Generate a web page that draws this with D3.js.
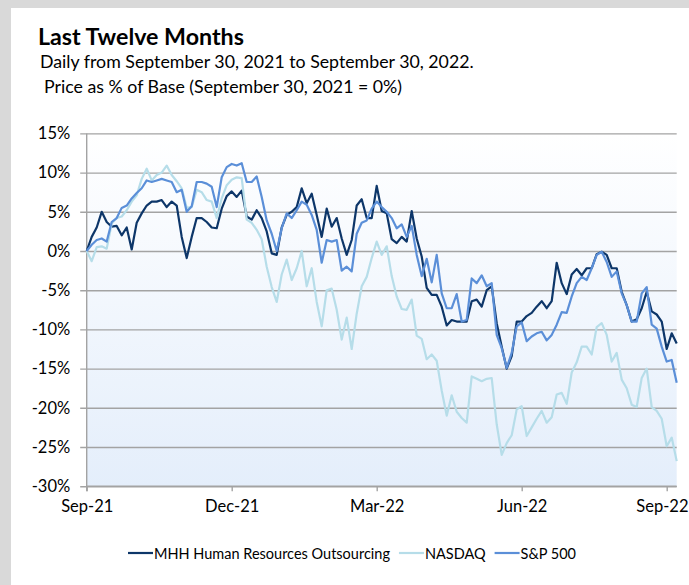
<!DOCTYPE html>
<html><head><meta charset="utf-8">
<script src="https://cdn.jsdelivr.net/npm/d3@7"></script>
<style>body{margin:0;background:#d9d9d9} svg{display:block}</style>
</head><body>
<svg id="c" width="689" height="585"></svg>
<script>
// ---- data ----
const tickLabels = ["Sep-21","Dec-21","Mar-22","Jun-22","Sep-22"];
const tickIndex  = [0, 29, 58, 87, 116];
const yTicks = [15,10,5,0,-5,-10,-15,-20,-25,-30];
const seriesNames = ["MHH Human Resources Outsourcing","NASDAQ","S&P 500"];

const mhh = [0,1.8,3.0,5.0,3.7,3.1,3.2,2.0,3.0,0.2,3.6,4.8,5.8,6.3,6.3,6.5,5.6,6.3,5.8,1.8,
 -0.9,1.8,4.2,4.2,3.7,3.0,2.9,5.4,7.0,7.6,6.9,7.7,4.4,4.0,5.2,4.2,2.5,-0.3,-0.5,3.0,
 4.6,5.0,5.6,8.0,6.1,7.3,4.6,1.8,5.4,3.1,4.2,1.6,-0.5,1.4,5.8,6.6,4.2,4.2,8.3,5.1,
 4.8,1.5,1.0,1.8,1.2,5.1,1.6,-0.7,-4.7,-5.6,-5.6,-7.1,-9.5,-8.8,-9.0,-9.0,-9.0,-6.4,-6.2,-7.1,
 -5.0,-4.5,-9.2,-12.2,-15.0,-13.4,-9.0,-9.0,-8.3,-7.9,-7.1,-6.4,-7.3,-6.4,-1.5,-4.1,-5.5,-3.0,-2.3,-3.1,
 -2.2,-2.2,-0.4,-0.1,-0.5,-2.2,-2.2,-5.2,-6.9,-9.0,-8.7,-7.3,-5.2,-7.7,-8.1,-9.0,-12.5,-10.5,-11.8];

const nasdaq = [0,-1.3,0.5,0.6,0.3,3.5,4.2,4.4,5.2,6.3,7.1,9.2,10.5,9.0,9.7,10.0,10.9,9.7,8.9,8.0,
 5.5,5.6,7.8,7.5,6.5,6.3,4.2,6.7,8.4,9.1,9.4,9.3,4.0,3.6,2.7,1.5,-2.0,-4.6,-6.5,-3.0,
 -1.1,-3.7,-2.2,0.0,-4.5,-2.2,-6.5,-9.6,-5.0,-4.8,-7.5,-11.3,-8.5,-12.5,-8.0,-4.5,-3.3,-0.9,1.2,-0.5,
 0.6,-3.2,-5.8,-7.4,-7.5,-6.2,-10.8,-11.2,-13.8,-13.2,-14.0,-17.8,-21.0,-18.4,-20.5,-21.3,-21.9,-16.0,-16.3,-16.6,
 -16.3,-16.2,-22.1,-26.0,-24.5,-23.5,-20.2,-19.8,-23.6,-22.5,-21.4,-20.4,-21.9,-21.2,-18.3,-18.1,-19.5,-15.5,-14.2,-12.2,
 -12.2,-13.2,-9.7,-9.2,-10.7,-14.1,-13.0,-16.4,-17.5,-19.6,-19.9,-16.2,-15.0,-19.9,-20.4,-21.4,-24.9,-23.8,-26.8];

const sp500 = [0,0.8,1.4,1.6,1.2,3.7,4.2,5.5,5.8,6.7,7.4,8.0,9.0,8.8,9.0,9.2,9.0,8.8,7.5,7.8,
 5.0,5.7,8.8,8.8,8.6,8.2,5.6,9.4,10.7,11.1,10.9,11.2,8.8,8.8,9.5,6.9,3.9,2.2,0.0,2.9,
 4.8,4.2,5.2,6.3,5.9,4.6,2.7,-1.5,1.4,1.2,1.4,-2.5,-2.0,-2.6,2.2,3.6,3.9,5.4,6.3,5.6,
 5.0,4.2,2.9,3.4,1.8,3.2,-0.5,-3.2,-1.0,-4.0,-0.5,-5.4,-7.3,-7.3,-5.5,-9.0,-8.8,-3.5,-4.1,-3.1,
 -4.5,-4.1,-10.7,-12.4,-14.9,-13.0,-9.6,-9.1,-11.5,-10.9,-10.5,-10.3,-11.4,-10.7,-9.4,-7.8,-7.9,-5.8,-4.1,-3.3,
 -3.7,-2.2,-0.5,-0.1,-1.4,-3.3,-2.6,-5.4,-6.9,-9.0,-9.0,-5.4,-4.6,-9.4,-9.9,-12.2,-14.1,-13.9,-16.8];

// ---- layout ----
const W = 689, H = 585;
const P = {left: 86.7, right: 676.7, top: 133.4, bottom: 486.2};
const colors = ["#0d3669", "#b6dde9", "#5b8fd8"];
const FONT = "Lato, 'Open Sans', sans-serif";

const svg = d3.select("#c");
svg.append("rect").attr("width", W).attr("height", H).attr("fill", "#d9d9d9");
svg.append("rect").attr("x", 11).attr("y", 8).attr("width", W - 11).attr("height", H - 8).attr("fill", "#ffffff");

const x = d3.scaleLinear().domain([0, mhh.length - 1]).range([P.left, P.right]);
const y = d3.scaleLinear().domain([-30, 15]).range([P.bottom, P.top]);

const defs = svg.append("defs");
const g = defs.append("linearGradient").attr("id", "bg").attr("x1", 0).attr("y1", 0).attr("x2", 0).attr("y2", 1);
g.append("stop").attr("offset", "0%").attr("stop-color", "#ffffff");
g.append("stop").attr("offset", "100%").attr("stop-color", "#e4eefb");

svg.append("rect").attr("x", P.left).attr("y", P.top)
  .attr("width", P.right - P.left).attr("height", P.bottom - P.top).attr("fill", "url(#bg)");

// grid lines + y ticks
const yAxis = d3.axisLeft(y).tickValues(yTicks).tickSize(-(P.right - P.left + 6.5))
  .tickFormat(d => d + "%").tickPadding(10);
const ya = svg.append("g").attr("transform", `translate(${P.left - 6.5},0)`).call(yAxis);
ya.select(".domain").remove();
ya.selectAll(".tick line").attr("stroke", "#a3a3a3").attr("stroke-width", 1.4);
ya.selectAll(".tick text").attr("font-family", FONT).attr("font-size", 16.5).attr("fill", "#000");

// left axis line
svg.append("line").attr("x1", P.left).attr("x2", P.left).attr("y1", P.top).attr("y2", P.bottom + 5)
  .attr("stroke", "#a3a3a3").attr("stroke-width", 1.4);

// x axis
const xAxis = d3.axisBottom(x).tickValues(tickIndex).tickFormat((d, i) => tickLabels[i])
  .tickSize(5).tickPadding(9);
const xa = svg.append("g").attr("transform", `translate(0,${P.bottom})`).call(xAxis);
xa.select(".domain").attr("stroke", "#a3a3a3").attr("stroke-width", 1.4)
  .attr("d", `M${P.left},0H${P.right}`);
xa.selectAll(".tick line").attr("stroke", "#a3a3a3").attr("stroke-width", 1.4);
xa.selectAll(".tick text").attr("font-family", FONT).attr("font-size", 16.5).attr("fill", "#000");
// keep the last label inside the window
xa.selectAll(".tick text").filter((d, i) => i === tickIndex.length - 1)
  .attr("text-anchor", "end").attr("x", W - 1 - x(tickIndex[tickIndex.length - 1]));

// lines
const line = d3.line().x((d, i) => x(i)).y(d => y(d));
const data = [mhh, nasdaq, sp500];
data.forEach((s, k) => {
  svg.append("path").datum(s).attr("d", line).attr("fill", "none")
    .attr("stroke", colors[k]).attr("stroke-width", 2.2).attr("stroke-linejoin", "round");
});

// titles
function fitText(sel, target) {
  const w = sel.node().getComputedTextLength();
  const fs = parseFloat(sel.attr("font-size"));
  sel.attr("font-size", (fs * target / w).toFixed(2));
}
const t1 = svg.append("text").attr("x", 38).attr("y", 45).attr("font-family", FONT)
  .attr("font-weight", "bold").attr("font-size", 20).text("Last Twelve Months");
fitText(t1, 206);
const t2 = svg.append("text").attr("x", 40).attr("y", 68).attr("font-family", FONT)
  .attr("font-size", 16).text("Daily from September 30, 2021 to September 30, 2022.");
fitText(t2, 434);
const t3 = svg.append("text").attr("x", 44).attr("y", 93).attr("font-family", FONT)
  .attr("font-size", 16).text("Price as % of Base (September 30, 2021 = 0%)");
fitText(t3, 358);

// legend
const lg = svg.append("g");
let lx = 128;
const ly = 553;
seriesNames.forEach((n, k) => {
  lg.append("line").attr("x1", lx).attr("x2", lx + 25).attr("y1", ly).attr("y2", ly)
    .attr("stroke", colors[k]).attr("stroke-width", 2.2);
  const t = lg.append("text").attr("x", lx + 26).attr("y", ly + 5.5).attr("font-family", FONT)
    .attr("font-size", 14.5).text(n);
  lx += 26 + t.node().getComputedTextLength() + 9;
});
</script>
</body></html>
